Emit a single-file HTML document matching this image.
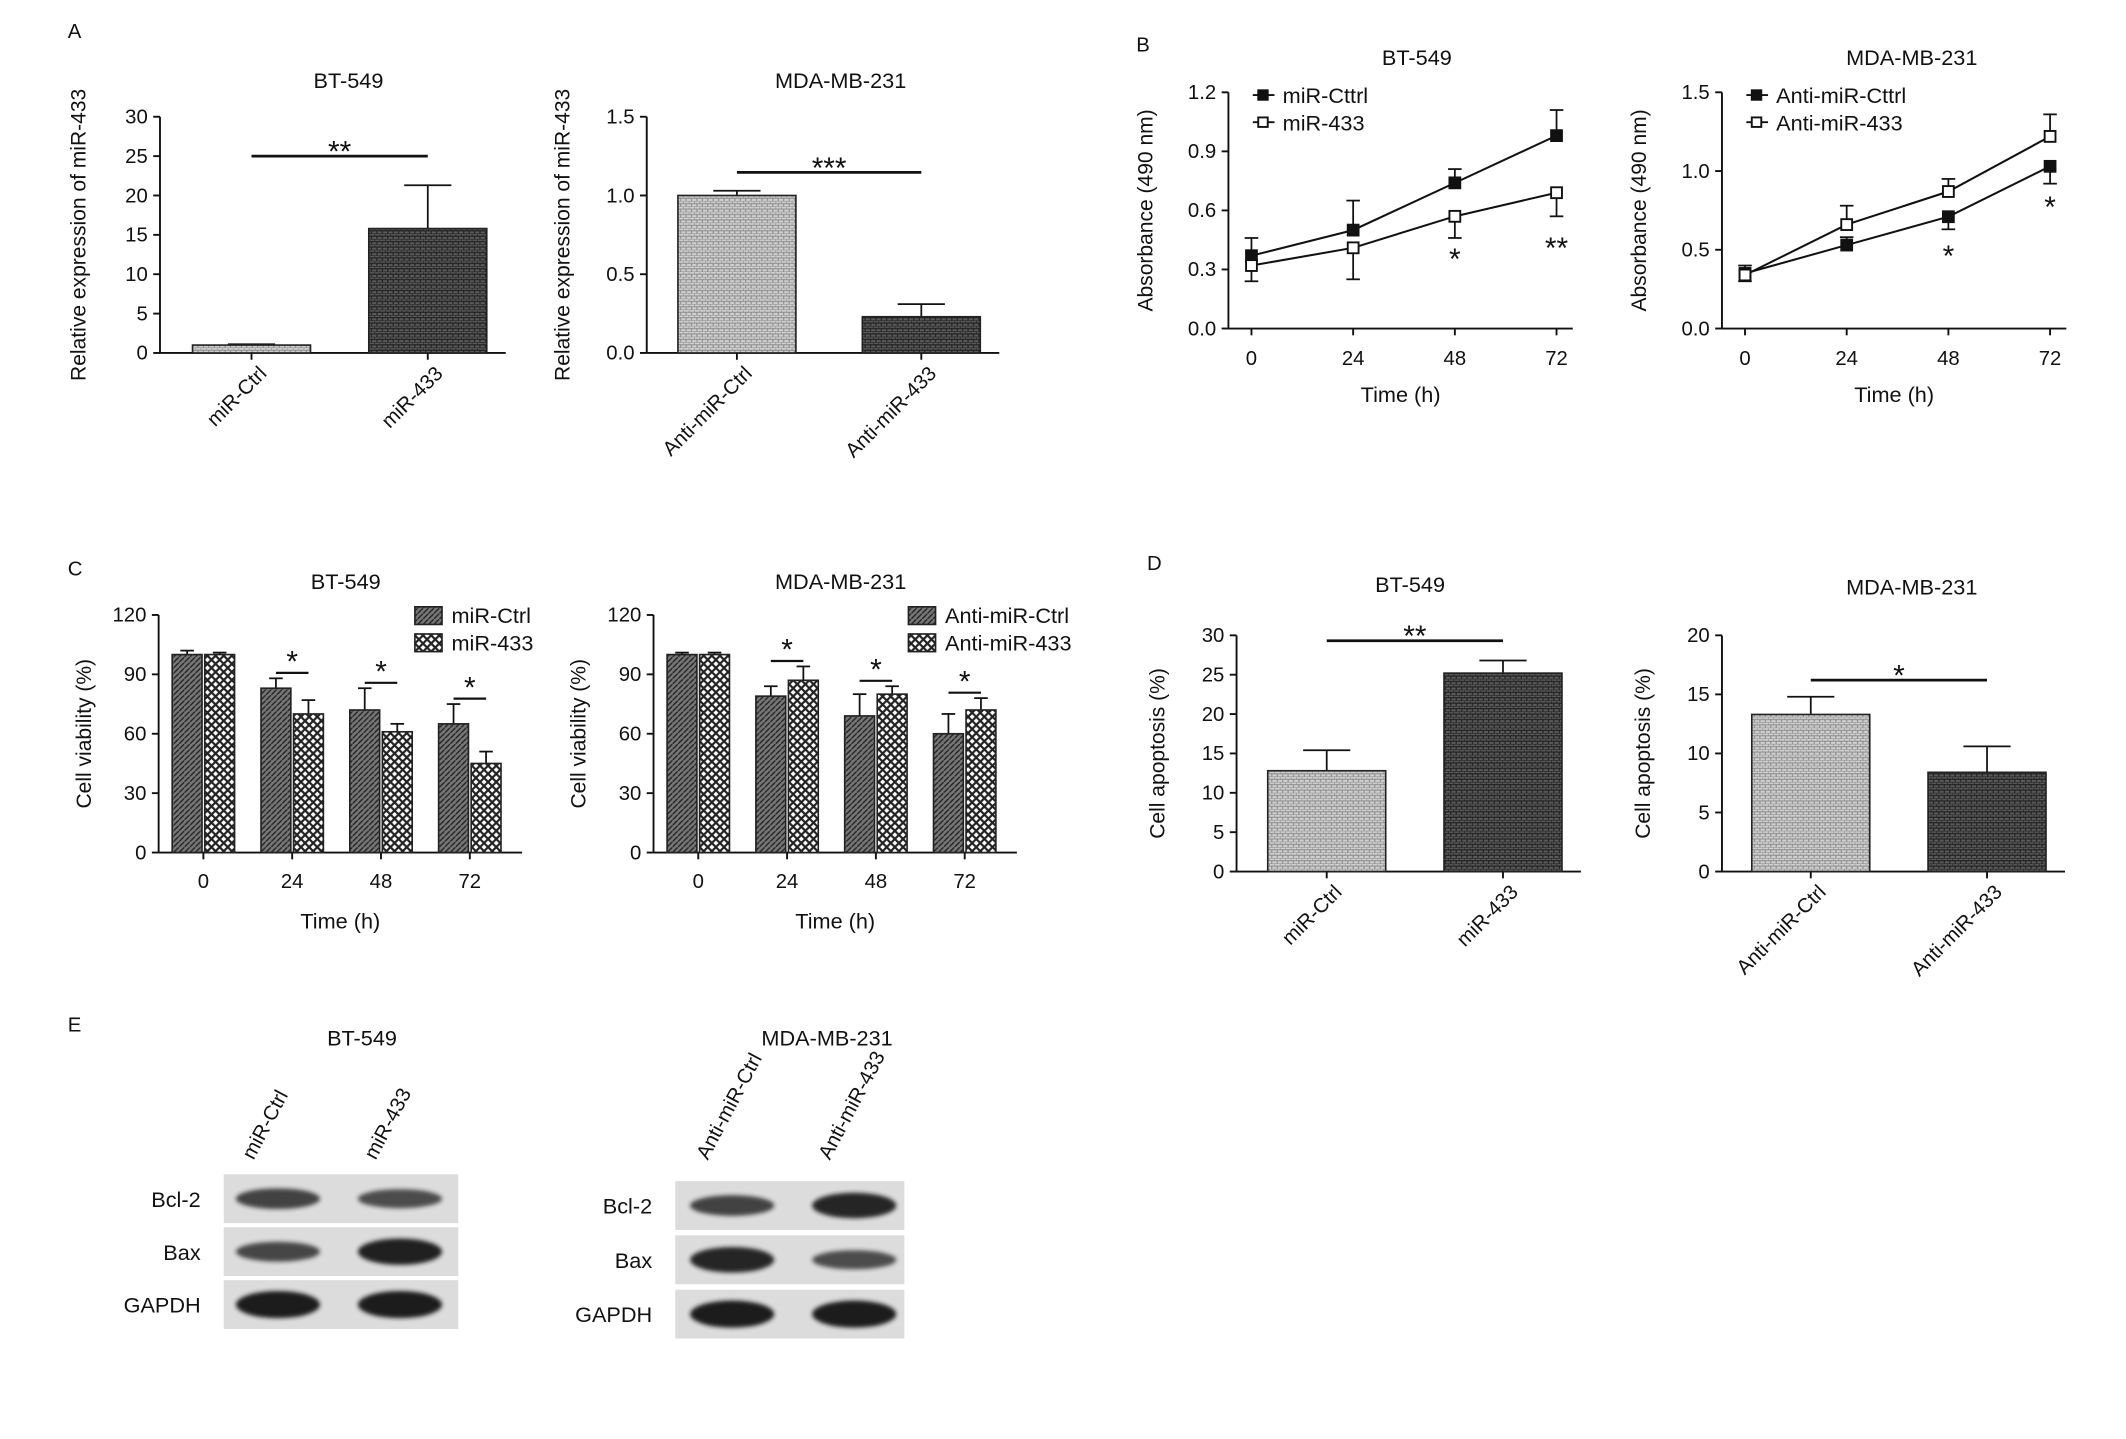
<!DOCTYPE html>
<html><head><meta charset="utf-8"><style>
html,body{margin:0;padding:0;background:#fff}
svg{display:block}
text{font-family:"Liberation Sans",Arial,sans-serif;fill:#111}
</style></head><body>
<svg id="fig" width="2126" height="1439" viewBox="0 0 1568 1060" preserveAspectRatio="none" xmlns="http://www.w3.org/2000/svg">
<defs>
<pattern id="pl" width="4" height="4" patternUnits="userSpaceOnUse"><rect width="4" height="4" fill="#cfcfcf"/><path d="M0 0h4M0 2h4" stroke="#8a8a8a" stroke-width="0.8"/><path d="M0 0v2M2 2v2" stroke="#8a8a8a" stroke-width="0.8"/></pattern>
<pattern id="pd" width="4" height="4" patternUnits="userSpaceOnUse"><rect width="4" height="4" fill="#5a5a5a"/><path d="M0 0h4M0 2h4" stroke="#222" stroke-width="0.9"/><path d="M0 0v2M2 2v2" stroke="#222" stroke-width="0.9"/></pattern>
<pattern id="pg" width="4" height="4" patternUnits="userSpaceOnUse"><rect width="4" height="4" fill="#777"/><path d="M0 4L4 0" stroke="#222" stroke-width="1"/></pattern>
<pattern id="pc" width="6" height="6" patternUnits="userSpaceOnUse"><rect width="6" height="6" fill="#fff"/><path d="M0 0L6 6M6 0L0 6" stroke="#222" stroke-width="1.6"/></pattern>
<filter id="bl" x="-30%" y="-60%" width="160%" height="220%"><feGaussianBlur stdDeviation="1.6"/></filter>
</defs>
<g id="root"></g>
</svg>
<script>
// ---- data ----
const aCats1=["miR-Ctrl","miR-433"], aVals1=[1,15.8], aErr1=[1.1,21.3];
const aCats2=["Anti-miR-Ctrl","Anti-miR-433"], aVals2=[1.0,0.23], aErr2=[1.03,0.31];
const bTimes=[0,24,48,72];
const bCtrl1=[0.37,0.50,0.74,0.98], bCtrl1Err=[0.46,0.65,0.81,1.11];
const b4331=[0.32,0.41,0.57,0.69], b4331Err=[0.24,0.25,0.46,0.57];
const bCtrl2=[0.35,0.53,0.71,1.03], bCtrl2Err=[0.40,0.58,0.63,0.92];
const b4332=[0.34,0.66,0.87,1.22], b4332Err=[0.30,0.78,0.95,1.36];
const cCtrl1=[100,83,72,65], cCtrl1Err=[102,88,83,75];
const c4331=[100,70,61,45], c4331Err=[101,77,65,51];
const cCtrl2=[100,79,69,60], cCtrl2Err=[101,84,80,70];
const c4332=[100,87,80,72], c4332Err=[101,94,84,78];
const dCats1=["miR-Ctrl","miR-433"], dVals1=[12.8,25.2], dErr1=[15.4,26.8];
const dCats2=["Anti-miR-Ctrl","Anti-miR-433"], dVals2=[13.3,8.4], dErr2=[14.8,10.6];

const NS="http://www.w3.org/2000/svg", root=document.getElementById('root');
function el(t,a){const e=document.createElementNS(NS,t);for(const k in a)e.setAttribute(k,a[k]);root.appendChild(e);return e;}
function txt(x,y,s,size,anchor,rot,name){
  const e=el('text',{x:x,y:y,'font-size':size,'text-anchor':anchor||'middle'});
  if(rot)e.setAttribute('transform',`rotate(${rot} ${x} ${y})`);
  e.textContent=s;
  
  
  return e;}
function line(x1,y1,x2,y2,w){return el('line',{x1,y1,x2,y2,stroke:'#111','stroke-width':w||1.4});}
function yAxis(x,y0,y1,max,step,dec,title,off){
  line(x,y0,x,y1);const n=Math.round(max/step);
  for(let i=0;i<=n;i++){const v=i*step,y=y0-(y0-y1)*v/max;line(x-5,y,x,y);txt(x-9,y+5,v.toFixed(dec),15,'end',0,'y-tick-label');}
  txt(x-off,(y0+y1)/2,title,15.5,'middle',-90,'y-axis-title');
  return v=>y0-(y0-y1)*v/max;
}
function errBar(x,y0,y1,hw){line(x,y0,x,y1,1.3);line(x-hw,y1,x+hw,y1,1.3);}
function sig(x1,x2,y,s){line(x1,y,x2,y,2);txt((x1+x2)/2,y+4,s,22,'middle',0,'significance-mark');}

[['A',50,28],['B',838,38],['C',50,424],['D',846,420],['E',50,760]].forEach(p=>txt(p[1],p[2],p[0],15,'start',0,'panel-letter'));

function barPanel(ax,y0,y1,max,step,dec,title,tx,ty,ytitle,off,cats,vals,errs,xs,w,sigy,sigs){
  txt(tx,ty,title,16,'middle',0,'panel-title');
  const sy=yAxis(ax,y0,y1,max,step,dec,ytitle,off);
  line(ax,y0,xs[1]+w+14,y0);
  cats.forEach((c,i)=>{
    errBar(xs[i]+w/2,sy(vals[i]),sy(errs[i]),w/5);
    const r=el('rect',{x:xs[i],y:sy(vals[i]),width:w,height:y0-sy(vals[i]),fill:`url(#${i?'pd':'pl'})`,stroke:'#222','stroke-width':1.2});
    
    
    line(xs[i]+w/2,y0,xs[i]+w/2,y0+5);
    txt(xs[i]+w/2+12,y0+16,c,15,'end',-45,'x-tick-label');
  });
  sig(xs[0]+w/2,xs[1]+w/2,sigy,sigs);
}
barPanel(118,260,86,30,5,0,'BT-549',257,65,'Relative expression of miR-433',55,aCats1,aVals1,aErr1,[142,272],87,115,'**');
barPanel(477,260,86,1.5,0.5,1,'MDA-MB-231',620,65,'Relative expression of miR-433',57,aCats2,aVals2,aErr2,[500,636],87,127,'***');
barPanel(912,642,468,30,5,0,'BT-549',1040,436,'Cell apoptosis (%)',53,dCats1,dVals1,dErr1,[935,1065],87,472,'**');
barPanel(1270,642,468,20,5,0,'MDA-MB-231',1410,438,'Cell apoptosis (%)',53,dCats2,dVals2,dErr2,[1292,1422],87,501,'*');

function linePanel(ax,xs0,title,tx,max,step,names,series,stars){
  const y0=242,y1=68;
  txt(tx,48,title,16,'middle',0,'panel-title');
  const sy=yAxis(ax,y0,y1,max,step,1,'Absorbance (490 nm)',56);
  line(ax,y0,ax+254,y0);
  const sx=t=>xs0+t/24*75;
  bTimes.forEach(t=>{line(sx(t),y0,sx(t),y0+5);txt(sx(t),y0+27,String(t),15,'middle',0,'x-tick-label');});
  txt(ax+127,y0+54,'Time (h)',16,'middle',0,'x-axis-title');
  series.forEach((s,k)=>{
    const vals=s[0],errs=s[1],fill=s[2];
    bTimes.forEach((t,i)=>errBar(sx(t),sy(vals[i]),sy(errs[i]),5));
    const pl=el('polyline',{points:bTimes.map((t,i)=>sx(t)+','+sy(vals[i])).join(' '),fill:'none',stroke:'#111','stroke-width':1.5});
    
    
    bTimes.forEach((t,i)=>{
      const m=el('rect',{x:sx(t)-4,y:sy(vals[i])-4,width:8,height:8,fill:fill,stroke:'#111','stroke-width':1.4});
      
      
    });
    const ly=70+k*20;line(ax+18,ly,ax+34,ly);el('rect',{x:ax+22,y:ly-3.5,width:7,height:7,fill:fill,stroke:'#111','stroke-width':1.4});
    txt(ax+40,ly+6,names[k],16,'start',0,'legend-entry');
  });
  stars.forEach(s=>txt(sx(s[0]),s[1],s[2],22,'middle',0,'significance-mark'));
}
linePanel(906,923,'BT-549',1045,1.2,0.3,['miR-Cttrl','miR-433'],[[bCtrl1,bCtrl1Err,'#111'],[b4331,b4331Err,'#fff']],[[48,198,'*'],[72,190,'**']]);
linePanel(1270,1287,'MDA-MB-231',1410,1.5,0.5,['Anti-miR-Cttrl','Anti-miR-433'],[[bCtrl2,bCtrl2Err,'#111'],[b4332,b4332Err,'#fff']],[[48,196,'*'],[72,160,'*']]);

function groupPanel(ax,g0,title,tx,names,ctrl,ctrlE,trt,trtE,lx){
  const y0=628,y1=453;
  txt(tx,434,title,16,'middle',0,'panel-title');
  const sy=yAxis(ax,y0,y1,120,30,0,'Cell viability (%)',50);
  line(ax,y0,ax+268,y0);
  const gx=t=>g0+t/24*65.5;
  bTimes.forEach((t,i)=>{
    line(gx(t),y0,gx(t),y0+5);txt(gx(t),y0+26,String(t),15,'middle',0,'x-tick-label');
    [[ctrl,ctrlE,'pg',-12],[trt,trtE,'pc',12]].forEach(s=>{
      const cx=gx(t)+s[3];
      errBar(cx,sy(s[0][i]),sy(s[1][i]),5);
      const r=el('rect',{x:cx-11,y:sy(s[0][i]),width:22,height:y0-sy(s[0][i]),fill:`url(#${s[2]})`,stroke:'#222','stroke-width':1.2});
      
      
    });
    if(i>0){const top=Math.max(ctrlE[i],trtE[i]);const y=sy(top)-4;line(gx(t)-12,y,gx(t)+12,y,1.6);txt(gx(t),y-1,'*',22,'middle',0,'significance-mark');}
  });
  txt(ax+134,y0+56,'Time (h)',16,'middle',0,'x-axis-title');
  ['pg','pc'].forEach((p,k)=>{
    const ly=447+k*20;el('rect',{x:lx,y:ly,width:20,height:13,fill:`url(#${p})`,stroke:'#222','stroke-width':1.2});
    txt(lx+27,ly+12,names[k],16,'start',0,'legend-entry');
  });
}
groupPanel(117,150,'BT-549',255,['miR-Ctrl','miR-433'],cCtrl1,cCtrl1Err,c4331,c4331Err,306);
groupPanel(482,515,'MDA-MB-231',620,['Anti-miR-Ctrl','Anti-miR-433'],cCtrl2,cCtrl2Err,c4332,c4332Err,670);

// E: western blots
const eRows=["Bcl-2","Bax","GAPDH"];
const eLeftInt=[[0.6,0.5],[0.55,0.95],[1,1]], eRightInt=[[0.6,0.9],[0.9,0.5],[1,1]];
function blot(title,tx,x,w,ys,h,lanes,labels,ints){
  txt(tx,770,title,16,'middle',0,'blot-title');
  labels.forEach((l,i)=>txt(lanes[i]-18,855,l,15,'start',-62,'lane-label'));
  eRows.forEach((r,j)=>{
    el('rect',{x:x,y:ys[j],width:w,height:h,fill:'#dcdcdc'});
    txt(x-17,ys[j]+h/2+6,r,16,'end',0,'row-label');
    lanes.forEach((lx,i)=>{
      const b=el('ellipse',{cx:lx,cy:ys[j]+h/2,rx:31,ry:4+6*ints[j][i],fill:'#1a1a1a',opacity:0.5+0.5*ints[j][i],filter:'url(#bl)'});
      
      
    });
  });
}
blot('BT-549',267,165,173,[865,904,943],36,[205,295],['miR-Ctrl','miR-433'],eLeftInt);
blot('MDA-MB-231',610,498,169,[870,910,950],36,[540,630],['Anti-miR-Ctrl','Anti-miR-433'],eRightInt);
</script>
</body></html>
